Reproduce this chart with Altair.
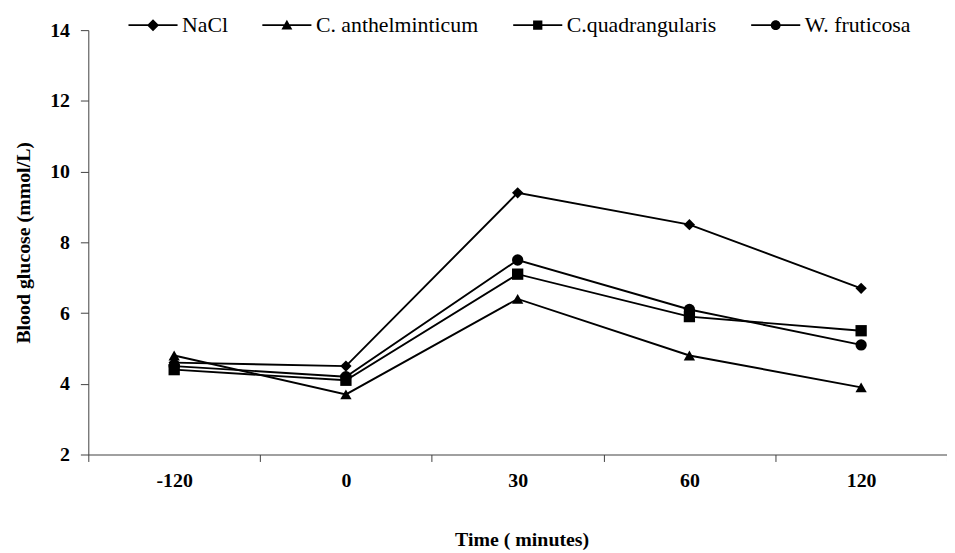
import altair as alt
import pandas as pd

times = ["-120", "0", "30", "60", "120"]
series = ["NaCl", "C. anthelminticum", "C.quadrangularis", "W. fruticosa"]
nacl = [4.6, 4.5, 9.4, 8.5, 6.7]
canth = [4.8, 3.7, 6.4, 4.8, 3.9]
cquad = [4.4, 4.1, 7.1, 5.9, 5.5]
wfrut = [4.5, 4.2, 7.5, 6.1, 5.1]
y_ticks = [2, 4, 6, 8, 10, 12, 14]

rows = []
for name, vals in zip(series, [nacl, canth, cquad, wfrut]):
    for t, v in zip(times, vals):
        rows.append({"time": t, "series": name, "glucose": v})
df = pd.DataFrame(rows)

FONT = "Liberation Serif"

x_enc = alt.X(
    "time:O",
    sort=times,
    bandPosition=0.5,
    scale=alt.Scale(type="band", paddingInner=0, paddingOuter=0),
    axis=alt.Axis(
        title="Time ( minutes)",
        tickBand="extent",
        labelAngle=0,
        labelPadding=9,
        tickSize=7,
        titleX=437,
        titleY=92,
        titleAlign="center",
        titleBaseline="alphabetic",
    ),
)
y_enc = alt.Y(
    "glucose:Q",
    scale=alt.Scale(domain=[2, 14], nice=False, zero=False),
    axis=alt.Axis(
        title="Blood glucose (mmol/L)",
        values=y_ticks,
        tickSize=8,
        labelPadding=11,
        titlePadding=16,
    ),
)

builtin_shapes = ["diamond", "triangle-up", "square", "circle"]

# legend glyphs: a thin filled bar (the line) with a filled marker in the middle
# (all sub-paths wound clockwise so the overlap stays filled)
LINE = "M-4.5,-0.17H4.5V0.17H-4.5Z"
legend_shapes = [
    LINE + "M0,-1.1L1.1,0L0,1.1L-1.1,0Z",
    LINE + "M0,-1L1,0.8L-1,0.8Z",
    LINE + "M-0.85,-0.85H0.85V0.85H-0.85Z",
    LINE + "M-0.9,0A0.9,0.9 0 1,1 0.9,0A0.9,0.9 0 1,1 -0.9,0Z",
]

base = alt.Chart(df)

lines = base.mark_line(color="black", strokeWidth=1.9).encode(
    x=x_enc, y=y_enc, detail="series:N"
)

point_layers = [
    base.transform_filter(alt.datum.series == name)
    .mark_point(filled=True, color="black", size=130, opacity=1, shape=shp)
    .encode(x=x_enc, y=y_enc)
    for name, shp in zip(series, builtin_shapes)
]

legend_layer = base.mark_point(
    filled=True, color="black", size=100, opacity=0
).encode(
    x=x_enc,
    y=y_enc,
    shape=alt.Shape(
        "series:N",
        scale=alt.Scale(domain=series, range=legend_shapes),
        legend=alt.Legend(
            title=None,
            orient="none",
            direction="horizontal",
            legendX=35,
            legendY=-16,
            symbolSize=121,
            symbolOffset=19.25,
            labelOffset=18.25,
            columnPadding=29,
            symbolOpacity=1,
            symbolFillColor="black",
            labelFont=FONT,
            labelFontSize=22,
            labelColor="black",
            labelLimit=400,
        ),
    ),
)

chart = (
    alt.layer(lines, *point_layers, legend_layer)
    .properties(
        width=866,
        height=428,
        autosize=alt.AutoSizeParams(type="none"),
        padding={"left": 81, "top": 20, "right": 0, "bottom": 97},
    )
    .configure_view(stroke=None)
    .configure_axis(
        grid=False,
        domainColor="#404040",
        tickColor="#404040",
        domainWidth=1,
        labelFont=FONT,
        labelFontSize=20,
        labelFontWeight="bold",
        labelColor="black",
        titleFont=FONT,
        titleFontSize=20,
        titleFontWeight="bold",
        titleColor="black",
    )
)

chart.save("out.html", embed_options={"renderer": "svg", "actions": False})
